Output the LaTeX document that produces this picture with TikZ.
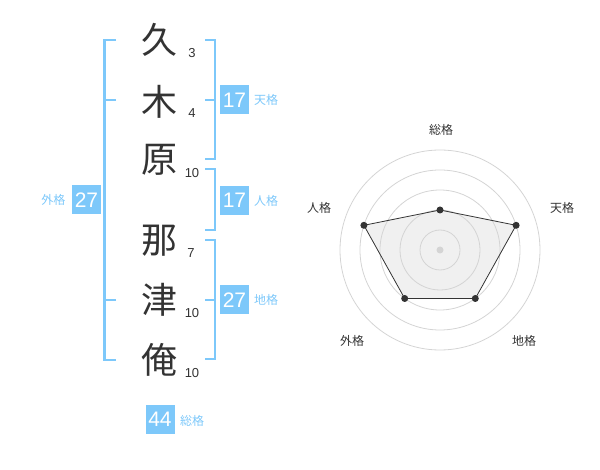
\documentclass[tikz,border=0pt]{standalone}
\usepackage{fontspec}
\setmainfont{Liberation Sans}
\newfontfamily\jp{Noto Sans CJK JP}
\definecolor{sky}{RGB}{125,200,250}
\definecolor{ink}{RGB}{51,51,51}
\definecolor{ring}{RGB}{212,212,212}
\definecolor{area}{RGB}{240,240,240}
\begin{document}
\begin{tikzpicture}[x=1pt,y=-1pt,
  kanji/.style={font=\jp\fontsize{36}{36}\selectfont, text=ink, inner sep=0pt},
  strokes/.style={font=\fontsize{13}{13}\selectfont, text=ink, inner sep=0pt},
  score/.style={fill=sky, text=white, minimum size=29pt, inner sep=0pt, font=\fontsize{21}{21}\selectfont},
  tag/.style={font=\jp\fontsize{12}{12}\selectfont, text=sky, inner sep=0pt},
  axislabel/.style={font=\jp\fontsize{12}{12}\selectfont, text=ink, inner sep=0pt},
  brk/.style={draw=sky, line width=2.2pt},
  ringline/.style={draw=ring, line width=0.8pt},
  dot/.style={circle, fill=ink, inner sep=0pt, minimum size=7pt},
  outline/.style={draw=ink, line width=0.8pt}]
\useasboundingbox (0,0) rectangle (600,470);

% name characters
\node[kanji] (k1) at (159,40) {久};
\node[kanji] (k2) at (159,102) {木};
\node[kanji] (k3) at (159,160) {原};
\node[kanji] (k4) at (159,241) {那};
\node[kanji] (k5) at (159,300) {津};
\node[kanji] (k6) at (159,360) {俺};

% stroke counts
\node[strokes] (s1) at (192,53) {3};
\node[strokes] (s2) at (192,113) {4};
\node[strokes] (s3) at (192,173) {10};
\node[strokes] (s4) at (191,253) {7};
\node[strokes] (s5) at (192,313) {10};
\node[strokes] (s6) at (192,373) {10};

% brackets
\coordinate (la) at (116,40);  \coordinate (lb) at (116,360);
\coordinate (lm1) at (116,100); \coordinate (lm2) at (116,300);
\draw[brk] (la) -| (104.5,360) -- (lb);
\draw[brk] (lm1) -- (104.5,100);
\draw[brk] (lm2) -- (104.5,300);

\coordinate (ta) at (205,40); \coordinate (tb) at (205,159); \coordinate (tm) at (205,100);
\draw[brk] (ta) -| (215,159) -- (tb);
\draw[brk] (tm) -- (215,100);

\coordinate (ja) at (205,169); \coordinate (jb) at (205,230);
\draw[brk] (ja) -| (215,230) -- (jb);

\coordinate (ca) at (205,240); \coordinate (cb) at (205,359); \coordinate (cm) at (205,300);
\draw[brk] (ca) -| (215,359) -- (cb);
\draw[brk] (cm) -- (215,300);

% score boxes and tags
\node[score] (b1) at (234.5,100) {17};
\node[tag] (t1) at (266,100) {天格};
\node[score] (b2) at (234.5,200.5) {17};
\node[tag] (t2) at (266,200.5) {人格};
\node[score] (b3) at (234.5,300) {27};
\node[tag] (t3) at (266,300) {地格};
\node[score] (b4) at (86.5,200) {27};
\node[tag] (t4) at (53.5,200) {外格};
\node[score] (b5) at (160,419) {44};
\node[tag] (t5) at (192,421) {総格};

% radar chart
\coordinate (c) at (440,250);
\coordinate (q1) at (440,210);
\coordinate (q2) at (516.1,225.3);
\coordinate (q3) at (475.3,298.5);
\coordinate (q4) at (404.7,298.5);
\coordinate (q5) at (363.9,225.3);
\fill[area] (q1) -- (q2) -- (q3) -- (q4) -- (q5) -- cycle;
\foreach \r in {20,40,60,80,100} \draw[ringline] (c) circle[radius=\r];
\node[circle, fill=ring, inner sep=0pt, minimum size=7pt] (cc) at (c) {};
\node[dot] (p1) at (q1) {};
\node[dot] (p2) at (q2) {};
\node[dot] (p3) at (q3) {};
\node[dot] (p4) at (q4) {};
\node[dot] (p5) at (q5) {};
\draw[outline] (p1.center) -- (p2.center) -- (p3.center) -- (p4.center) -- (p5.center) -- cycle;

\node[axislabel] (a1) at (441,130) {総格};
\node[axislabel] (a2) at (562,208) {天格};
\node[axislabel] (a3) at (524,341) {地格};
\node[axislabel] (a4) at (352,341) {外格};
\node[axislabel] (a5) at (319,208) {人格};
\end{tikzpicture}
\end{document}
